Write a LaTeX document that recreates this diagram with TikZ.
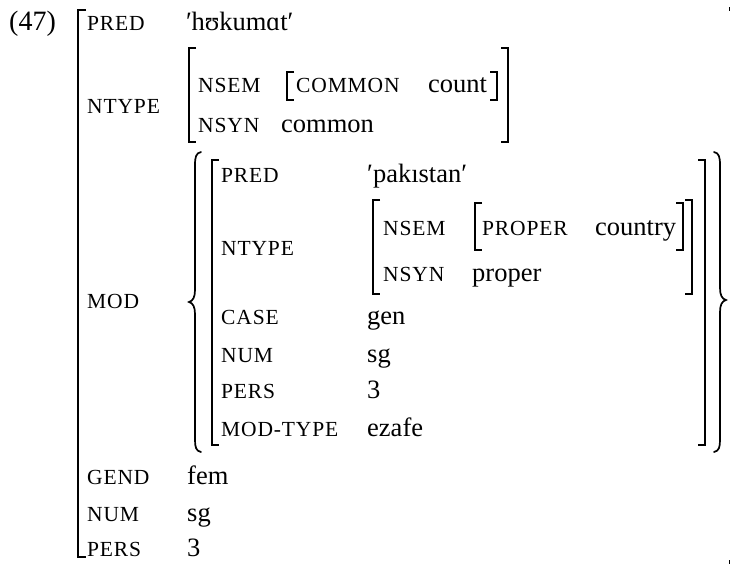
\documentclass[tikz,border=0pt]{standalone}
\usepackage{fontspec}
\setmainfont{Liberation Serif}
\newfontfamily\featfam{Liberation Serif}[LetterSpace=4]
\newcommand{\featfont}{\fontsize{21.5}{23}\featfam}
\newcommand{\valfont}{\fontsize{26.5}{28}\selectfont}
\newcommand{\LBr}[3]{\draw[brk] (#1pt,-#2pt) ++(7pt,0) -- ++(-7pt,0) -- (#1pt,-#3pt) -- ++(7pt,0);}
\newcommand{\RBr}[3]{\draw[brk] (#1pt,-#2pt) ++(-7pt,0) -- ++(7pt,0) -- (#1pt,-#3pt) -- ++(-7pt,0);}
\tikzset{
  lab/.style={anchor=base west, inner sep=0pt, font=\featfont},
  val/.style={anchor=base west, inner sep=0pt, font=\valfont},
  brk/.style={line width=1.3pt, line cap=butt, line join=miter},
  brc/.style={line width=1.7pt, line cap=round}
}
\begin{document}
\begin{tikzpicture}[x=1pt,y=1pt]
\useasboundingbox (0,0) rectangle (731,-566);
% example number
\node[anchor=base west, inner sep=0pt, font=\fontsize{28}{30}\selectfont] (num) at (9,-30) {(47)};
% outer matrix
\draw[brk] (86,-10) -- (78,-10) -- (78,-557) -- (86,-557);
\draw[brk] (729.5,-7) -- (729.5,-11);
\draw[brk] (729.5,-560) -- (729.5,-564);
\node[lab] (pred) at (87,-30) {PRED};
\node[val] (predv) at (186,-30) {′\kern-0.5pt hʊkumɑt′};
\node[lab] (ntype) at (87,-113) {NTYPE};
% outer NTYPE matrix
\LBr{189}{48}{142}
\RBr{508}{48}{142}
\node[lab] (nsem) at (198,-92) {NSEM};
\LBr{287}{72}{100}
\node[lab] (common) at (296,-92) {COMMON};
\node[val] (count) at (428,-92) {count};
\RBr{497}{72}{100}
\node[lab] (nsyn) at (198,-132) {NSYN};
\node[val] (commonv) at (281,-132) {common};
% MOD
\node[lab] (mod) at (87,-308) {MOD};
\draw[brc] (201,-152) .. controls (196,-153) and (195,-157) .. (195,-165) -- (195,-290)
  .. controls (195,-297) and (193,-301) .. (189,-302)
  .. controls (193,-303) and (195,-307) .. (195,-314) -- (195,-440)
  .. controls (195,-447) and (196,-451) .. (201,-452);
\draw[brc] (714,-152) .. controls (719,-153) and (720,-157) .. (720,-165) -- (720,-288)
  .. controls (720,-295) and (722,-299) .. (726,-300)
  .. controls (722,-301) and (720,-305) .. (720,-312) -- (720,-440)
  .. controls (720,-447) and (719,-451) .. (714,-452);
\LBr{212}{160}{445}
\RBr{705}{160}{445}
\node[lab] (mpred) at (221,-182) {PRED};
\node[val] (mpredv) at (367,-182) {′pakıstan′};
\node[lab] (mntype) at (221,-255) {NTYPE};
\LBr{373}{200}{294}
\RBr{692}{200}{294}
\node[lab] (mnsem) at (383,-235) {NSEM};
\LBr{475}{203}{250}
\node[lab] (proper) at (482,-235) {PROPER};
\node[val] (country) at (595,-235) {country};
\RBr{683}{203}{250}
\node[lab] (mnsyn) at (383,-281) {NSYN};
\node[val] (properv) at (472,-281) {proper};
\node[lab] (case) at (221,-324) {CASE};
\node[val] (casev) at (367,-324) {gen};
\node[lab] (mnum) at (221,-362) {NUM};
\node[val] (mnumv) at (367,-362) {sg};
\node[lab] (mpers) at (221,-398) {PERS};
\node[val] (mpersv) at (367,-398) {3};
\node[lab] (modtype) at (221,-436) {MOD-TYPE};
\node[val] (modtypev) at (367,-436) {ezafe};
% rest
\node[lab] (gend) at (87,-484) {GEND};
\node[val] (gendv) at (187,-484) {fem};
\node[lab] (onum) at (87,-521) {NUM};
\node[val] (onumv) at (187,-521) {sg};
\node[lab] (opers) at (87,-556) {PERS};
\node[val] (opersv) at (187,-556) {3};
\end{tikzpicture}
\end{document}
